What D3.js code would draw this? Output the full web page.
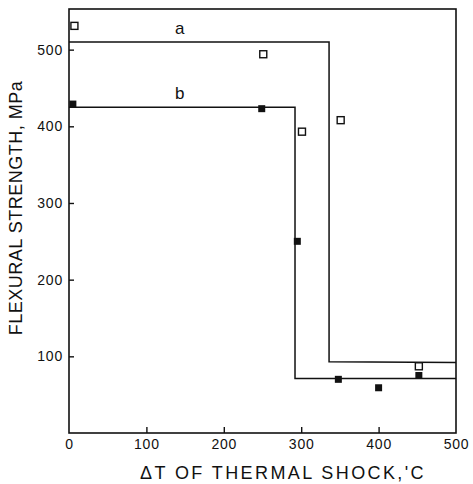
<!DOCTYPE html>
<html>
<head>
<meta charset="utf-8">
<script src="https://cdn.jsdelivr.net/npm/d3@7"></script>
<style>
  body { margin: 0; background: #fff; }
  svg text { font-family: 'Liberation Sans', Arial, sans-serif; fill: #111; }
</style>
</head>
<body>
<svg id="chart" width="473" height="484"></svg>
<script>
// data
const xTicks = [0, 100, 200, 300, 400, 500];
const yTicks = [100, 200, 300, 400, 500];

// step curves (deltaT, MPa)
const curveA = [[0, 510], [336, 510], [336, 93], [500, 92]];
const curveB = [[0, 425], [292, 425], [292, 71], [500, 71]];

// measured points
const pointsA = [[7, 531], [251, 494], [301, 393], [351, 408], [452, 87]];
const pointsB = [[5, 429], [249, 423], [295, 250], [348, 70], [400, 59], [452, 75]];

const labels = [{ text: 'a', x: 143, y: 521 }, { text: 'b', x: 143, y: 436 }];

const margin = { left: 69, right: 17, top: 9, bottom: 51 };

const svg = d3.select('#chart');
const W = +svg.attr('width') - margin.left - margin.right;
const H = +svg.attr('height') - margin.top - margin.bottom;

const g = svg.append('g')
  .attr('transform', `translate(${margin.left}, ${margin.top})`);

const x = d3.scaleLinear().domain([0, 500]).range([0, W]);
const y = d3.scaleLinear().domain([0, 553]).range([H, 0]);

// frame
g.append('rect')
  .attr('width', W)
  .attr('height', H)
  .attr('fill', 'none')
  .attr('stroke', '#111')
  .attr('stroke-width', 1.6);

const xAxis = g.append('g')
  .attr('transform', `translate(0, ${H})`)
  .call(d3.axisBottom(x).tickValues(xTicks).tickSize(-6).tickPadding(6));

const yAxis = g.append('g')
  .call(d3.axisLeft(y).tickValues(yTicks).tickSize(-5).tickPadding(6));

[xAxis, yAxis].forEach(a => {
  a.select('.domain').remove();
  a.selectAll('.tick line').attr('stroke', '#111').attr('stroke-width', 1.4);
  a.selectAll('.tick text')
    .attr('font-size', 14)
    .attr('letter-spacing', 0.8)
    .attr('fill', '#111');
});
xAxis.selectAll('.tick').filter(d => d === 0 || d === 500).select('line').remove();

const line = d3.line().x(d => x(d[0])).y(d => y(d[1]));

g.selectAll('path.curve')
  .data([curveA, curveB])
  .enter()
  .append('path')
    .classed('curve', true)
    .attr('d', line)
    .attr('fill', 'none')
    .attr('stroke', '#111')
    .attr('stroke-width', 1.5);

const S = 7;

g.selectAll('rect.ptA')
  .data(pointsA)
  .enter()
  .append('rect')
    .classed('ptA', true)
    .attr('x', d => x(d[0]) - S / 2)
    .attr('y', d => y(d[1]) - S / 2)
    .attr('width', S)
    .attr('height', S)
    .attr('fill', '#fff')
    .attr('stroke', '#111')
    .attr('stroke-width', 1.4);

g.selectAll('rect.ptB')
  .data(pointsB)
  .enter()
  .append('rect')
    .classed('ptB', true)
    .attr('x', d => x(d[0]) - S / 2)
    .attr('y', d => y(d[1]) - S / 2)
    .attr('width', S)
    .attr('height', S)
    .attr('fill', '#111');

g.selectAll('text.lbl')
  .data(labels)
  .enter()
  .append('text')
    .classed('lbl', true)
    .attr('x', d => x(d.x))
    .attr('y', d => y(d.y))
    .attr('text-anchor', 'middle')
    .attr('font-size', 17)
    .text(d => d.text);

// axis titles
svg.append('text')
  .attr('x', 283)
  .attr('y', 479)
  .attr('text-anchor', 'middle')
  .attr('font-size', 18)
  .attr('letter-spacing', 2.4)
  .text("ΔT OF THERMAL SHOCK,'C");

svg.append('text')
  .attr('transform', 'translate(22, 208) rotate(-90)')
  .attr('text-anchor', 'middle')
  .attr('font-size', 18)
  .attr('letter-spacing', 0.5)
  .text('FLEXURAL STRENGTH, MPa');
</script>
</body>
</html>
